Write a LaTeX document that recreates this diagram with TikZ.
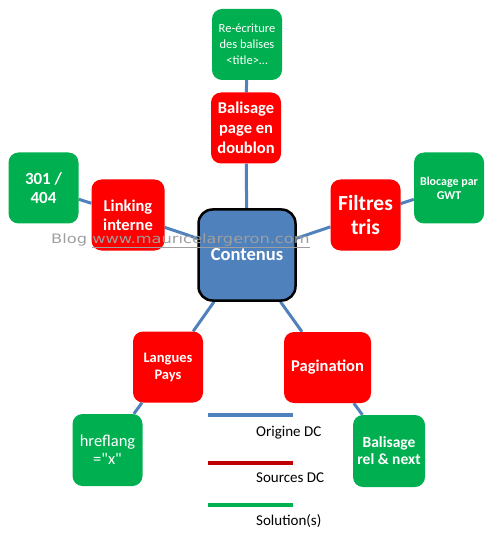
\documentclass[tikz,border=0pt]{standalone}
\usepackage{fontspec}
\setmainfont{Carlito}
\newfontfamily\wmfont{DejaVu Sans}
\usetikzlibrary{positioning}
\definecolor{dcblue}{RGB}{79,129,189}
\definecolor{dcred}{RGB}{255,0,0}
\definecolor{dcdarkred}{RGB}{192,0,0}
\definecolor{dcgreen}{RGB}{0,176,80}
\pgfdeclarelayer{background}
\pgfsetlayers{background,main}

\begin{document}
\begin{tikzpicture}[
x=1pt, y=-1pt,
every node/.style={align=center, text=white, inner sep=1pt},
dcbox/.style={rectangle, rounded corners=10pt, minimum width=70pt, minimum height=71pt},
source/.style={dcbox, fill=dcred},
solution/.style={dcbox, fill=dcgreen},
origine/.style={rectangle, fill=dcblue, draw=black, line width=2.5pt, rounded corners=14pt, minimum width=97pt, minimum height=91pt},
link/.style={dcblue, line width=3pt},
legend_line/.style={line width=4pt},
legend_text/.style={text=black, anchor=west, font=\fontsize{15}{17}\selectfont}
]

\useasboundingbox (0,0) rectangle (493,534);

% Centre

\node[origine, font=\bfseries\fontsize{18.5}{21}\selectfont] (contenus) at (247,255) {Contenus};

% Sources DC

\node[source, font=\bfseries\fontsize{16.5}{20}\selectfont] (doublon) at (246,128) {Balisage\\page en\\doublon};

\node[source, minimum width=73pt, font=\bfseries\fontsize{16.5}{19}\selectfont] (linking) at (128,215) {Linking\\interne};

\node[source, font=\bfseries\fontsize{21.5}{24}\selectfont] (filtres) at (365.5,215) {Filtres\\tris};

\node[source, font=\bfseries\fontsize{14.5}{17}\selectfont] (langues) at (168,367) {Langues\\Pays};

\node[source, minimum width=87pt, font=\bfseries\fontsize{16.5}{18}\selectfont] (pagination) at (327.5,367.5) {Pagination};

% Solutions

\node[solution, font=\fontsize{12.5}{16}\selectfont] (reecriture) at (247,44.5) {Re-écriture\\des balises\\<title>\ldots};

\node[solution, font=\bfseries\fontsize{17}{19}\selectfont] (redirect) at (43.5,188) {301 /\\404};

\node[solution, font=\bfseries\fontsize{12}{14}\selectfont] (blocage) at (449,188) {Blocage par\\GWT};

\node[solution, minimum height=72pt, font=\fontsize{16.5}{18}\selectfont] (hreflang) at (107.5,450) {hreflang\\=\textquotedbl x\textquotedbl};

\node[solution, minimum width=72pt, minimum height=72pt, font=\bfseries\fontsize{15.5}{17}\selectfont] (relnext) at (389,451) {Balisage\\rel \& next};

% Connectors

\begin{pgfonlayer}{background}
\draw[link] (contenus) -- (doublon) -- (reecriture);
\draw[link] (contenus) -- (linking) -- (redirect);
\draw[link] (contenus) -- (filtres) -- (blocage);
\draw[link] (contenus) -- (langues) -- (hreflang);
\draw[link] (contenus) -- (pagination) -- (relnext);
\end{pgfonlayer}

% Watermark

\node[text=gray!75, anchor=base west, font=\wmfont\fontsize{13}{13}\selectfont] (blog) at (50,243) {\scalebox{1.25}[1]{Blog \underline{www.mauricelargeron.com}}};

% Legend

\coordinate (o1) at (208,415);
\coordinate (o2) at (293,415);
\coordinate (s1) at (208,463);
\coordinate (s2) at (293,463);
\coordinate (l1) at (208,505);
\coordinate (l2) at (293,505);

\draw[legend_line, dcblue] (o1) -- (o2);
\draw[legend_line, dcdarkred] (s1) -- (s2);
\draw[legend_line, dcgreen] (l1) -- (l2);

\node[legend_text] (lorigine) at (255,433) {Origine DC};
\node[legend_text] (lsources) at (255,478) {Sources DC};
\node[legend_text] (lsolution) at (255,521) {Solution(s)};

\end{tikzpicture}
\end{document}
